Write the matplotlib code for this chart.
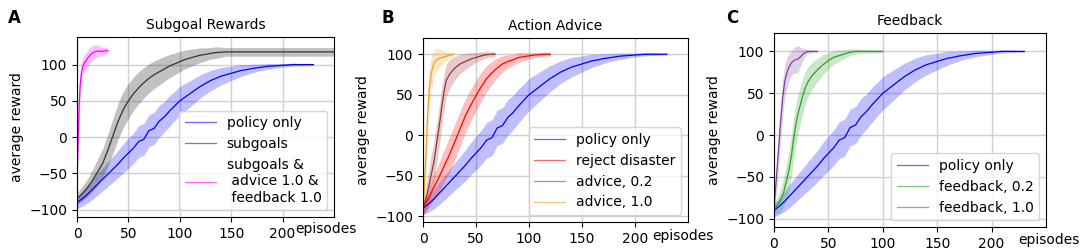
import matplotlib.pyplot as plt

# policy only baseline (same in all three panels), sampled every 5 episodes
policy_x = [0, 5, 10, 15, 20, 25, 30, 35, 40, 45, 50, 55, 60, 65, 70, 75, 80, 85, 90, 95,
            100, 105, 110, 115, 120, 125, 130, 135, 140, 145, 150, 155, 160, 165, 170, 175,
            180, 185, 190, 195, 200, 205, 210, 215, 220, 225, 230]
policy_mean = [-90, -85, -79, -72, -65, -58, -51, -44, -37, -29, -22, -15, -6, -3, 9, 12, 22, 28, 36, 43,
               50, 55, 60, 65, 70, 74, 78, 81, 84, 86, 88, 90, 92, 93, 94.5, 95.5,
               96.5, 97.5, 98, 98.5, 99, 99.5, 100, 100, 100, 100, 100]
policy_spread = [8, 10, 12, 14, 15, 16, 17, 18, 19, 20, 21, 21, 22, 22, 22, 22, 22, 21, 21, 20,
                 20, 19, 18, 17, 16, 15, 14, 13, 12, 11, 10, 9, 8, 7, 6, 5,
                 4.5, 4, 3.5, 3, 2.5, 2, 2, 1.5, 1.5, 1, 1]

# panel A
subgoals_x = [0, 5, 10, 15, 20, 25, 30, 35, 40, 45, 50, 55, 60, 65, 70, 75, 80, 85, 90, 95,
              100, 105, 110, 115, 120, 125, 130, 135, 140, 145, 150, 155, 160, 165, 170, 175,
              180, 185, 190, 195, 200, 205, 210, 215, 220, 225, 230, 235, 240, 245, 250]
subgoals_mean = [-85, -78, -70, -60, -48, -36, -18, 2, 22, 38, 50, 60, 68, 75, 81, 86, 90, 94, 98, 101,
                 104, 107, 109, 111, 113, 114, 115.5, 116.5, 117, 117.5, 117.5, 117.5, 117.5, 117.5, 117.5, 117.5,
                 117.5, 117.5, 117.5, 117.5, 117.5, 117.5, 117.5, 117.5, 117.5, 117.5, 117.5, 117.5, 117.5, 117.5, 117.5]
subgoals_spread = [8, 10, 12, 15, 18, 20, 22, 24, 25, 25, 24, 23, 22, 21, 20, 19, 18, 17, 16, 15,
                   14, 13, 12, 11, 10, 9, 8, 8, 7, 6, 6, 6, 6, 6, 6, 6,
                   6, 6, 6, 6, 6, 6, 6, 6, 6, 6, 6, 6, 6, 6, 6]
combo_x = [0, 1, 2, 3, 4, 5, 6, 8, 10, 12, 15, 18, 21, 24, 27, 30]
combo_mean = [-60, -10, 40, 70, 85, 94, 99, 104, 108, 112, 116, 118, 119, 118, 119, 119]
combo_spread = [5, 15, 20, 18, 15, 13, 12, 12, 11, 11, 10, 9, 8, 6, 5, 4]

# panel B
reject_x = [0, 5, 10, 15, 20, 25, 30, 35, 40, 45, 50, 55, 60, 65, 70, 75, 80, 85, 90, 95,
            100, 105, 110, 115, 120]
reject_mean = [-90, -78, -65, -52, -38, -24, -8, 8, 24, 37, 49, 60, 70, 77, 83, 88, 91, 93, 96, 97,
               98, 99, 99.5, 100, 100]
reject_spread = [8, 12, 15, 18, 20, 22, 22, 22, 21, 20, 19, 18, 16, 14, 12, 10, 8, 7, 6, 5,
                 4, 3, 2.5, 2, 2]
advice02_x = [0, 2, 4, 6, 8, 10, 12, 14, 16, 18, 20, 22, 25, 28, 31, 35, 40, 45, 50, 55, 60, 65, 68]
advice02_mean = [-90, -82, -72, -60, -47, -35, -18, 0, 18, 38, 55, 68, 75, 80, 84, 88, 91, 94, 96, 98, 99.5, 100, 100]
advice02_spread = [8, 12, 18, 22, 25, 25, 25, 25, 25, 24, 22, 20, 18, 16, 14, 12, 10, 8, 6, 5, 4, 3, 3]
advice10_x = [0, 1, 2, 3, 4, 5, 6, 8, 10, 12, 15, 18, 21, 24, 27, 29]
advice10_mean = [-90, -70, -45, -15, 15, 40, 58, 78, 88, 92, 95, 96, 97, 98.5, 99.5, 100]
advice10_spread = [5, 12, 20, 25, 28, 28, 26, 20, 18, 15, 12, 9, 6, 4, 3, 2]

# panel C
fb02_x = [0, 3, 6, 9, 12, 14, 16, 18, 20, 22, 25, 28, 31, 35, 40, 45, 50, 55, 60, 65, 70, 75, 80, 90, 100]
fb02_mean = [-88, -84, -78, -68, -52, -40, -25, -5, 12, 25, 40, 54, 63, 71, 78, 84, 89, 93, 95, 97, 99, 100, 100, 100, 100]
fb02_spread = [6, 10, 14, 18, 22, 24, 25, 25, 25, 24, 22, 20, 18, 16, 14, 12, 10, 8, 7, 5, 4, 3, 2.5, 2, 1.5]
fb10_x = [0, 2, 4, 6, 8, 10, 12, 14, 16, 18, 20, 22, 24, 26, 28, 30, 33, 36, 40]
fb10_mean = [-85, -55, -20, 15, 45, 65, 75, 82, 86, 89, 90, 91, 93, 96, 98, 99.5, 100, 100, 100]
fb10_spread = [8, 15, 20, 22, 22, 20, 18, 16, 15, 15, 16, 16, 12, 8, 5, 3, 2, 1.5, 1]

FS = 10


def band(ax, x, mean, spread, color, label, fill_alpha=0.25):
    lo = [m - s for m, s in zip(mean, spread)]
    hi = [m + s for m, s in zip(mean, spread)]
    ax.fill_between(x, lo, hi, color=color, alpha=fill_alpha, linewidth=0)
    ax.plot(x, mean, color=color, lw=0.9, label=label)


def style(ax, title, ylim, ep_x, ep_y):
    ax.set_xlim(0, 250)
    ax.set_ylim(*ylim)
    ax.set_xticks([0, 50, 100, 150, 200])
    ax.set_yticks([-100, -50, 0, 50, 100])
    ax.grid(True, color='#d0d0d0', lw=1)
    ax.set_axisbelow(True)
    ax.tick_params(labelsize=FS)
    ax.set_title(title, fontsize=FS)
    ax.set_ylabel('average reward', fontsize=FS)
    ax.text(ep_x, ep_y, 'episodes', transform=ax.transAxes, ha='center', va='center', fontsize=FS)
    leg = ax.legend(loc='lower right', fontsize=FS, handlelength=2.2)
    for h in leg.get_lines():
        h.set_alpha(0.6)


fig = plt.figure(figsize=(10.84, 2.52), dpi=100)
W, H = 1084, 252


def axes_px(left, right, top, bottom):
    return fig.add_axes([left / W, 1 - bottom / H, (right - left) / W, (bottom - top) / H])


axA = axes_px(77, 334, 37, 217)
band(axA, policy_x, policy_mean, policy_spread, 'blue', 'policy only')
band(axA, subgoals_x, subgoals_mean, subgoals_spread, '#333333', 'subgoals', fill_alpha=0.3)
band(axA, combo_x, combo_mean, combo_spread, '#ff00ff', 'subgoals &\n advice 1.0 &\n feedback 1.0')
style(axA, 'Subgoal Rewards', (-110, 138), 0.97, -0.067)

axB = axes_px(423, 688, 38, 222)
band(axB, policy_x, policy_mean, policy_spread, 'blue', 'policy only')
band(axB, reject_x, reject_mean, reject_spread, 'red', 'reject disaster')
band(axB, advice02_x, advice02_mean, advice02_spread, '#993333', 'advice, 0.2')
band(axB, advice10_x, advice10_mean, advice10_spread, '#f0a020', 'advice, 1.0')
style(axB, 'Action Advice', (-107, 120), 0.98, -0.076)

axC = axes_px(774, 1046, 33, 227)
band(axC, policy_x, policy_mean, policy_spread, 'blue', 'policy only')
band(axC, fb02_x, fb02_mean, fb02_spread, '#2ca02c', 'feedback, 0.2')
band(axC, fb10_x, fb10_mean, fb10_spread, '#8040a0', 'feedback, 1.0')
style(axC, 'Feedback', (-110, 122), 1.01, -0.067)

for lbl, x in [('A', 14), ('B', 388), ('C', 732)]:
    fig.text(x / W, 1 - 18 / H, lbl, fontsize=12, fontweight='bold', ha='center', va='center')

fig.savefig('out.png', dpi=100)
